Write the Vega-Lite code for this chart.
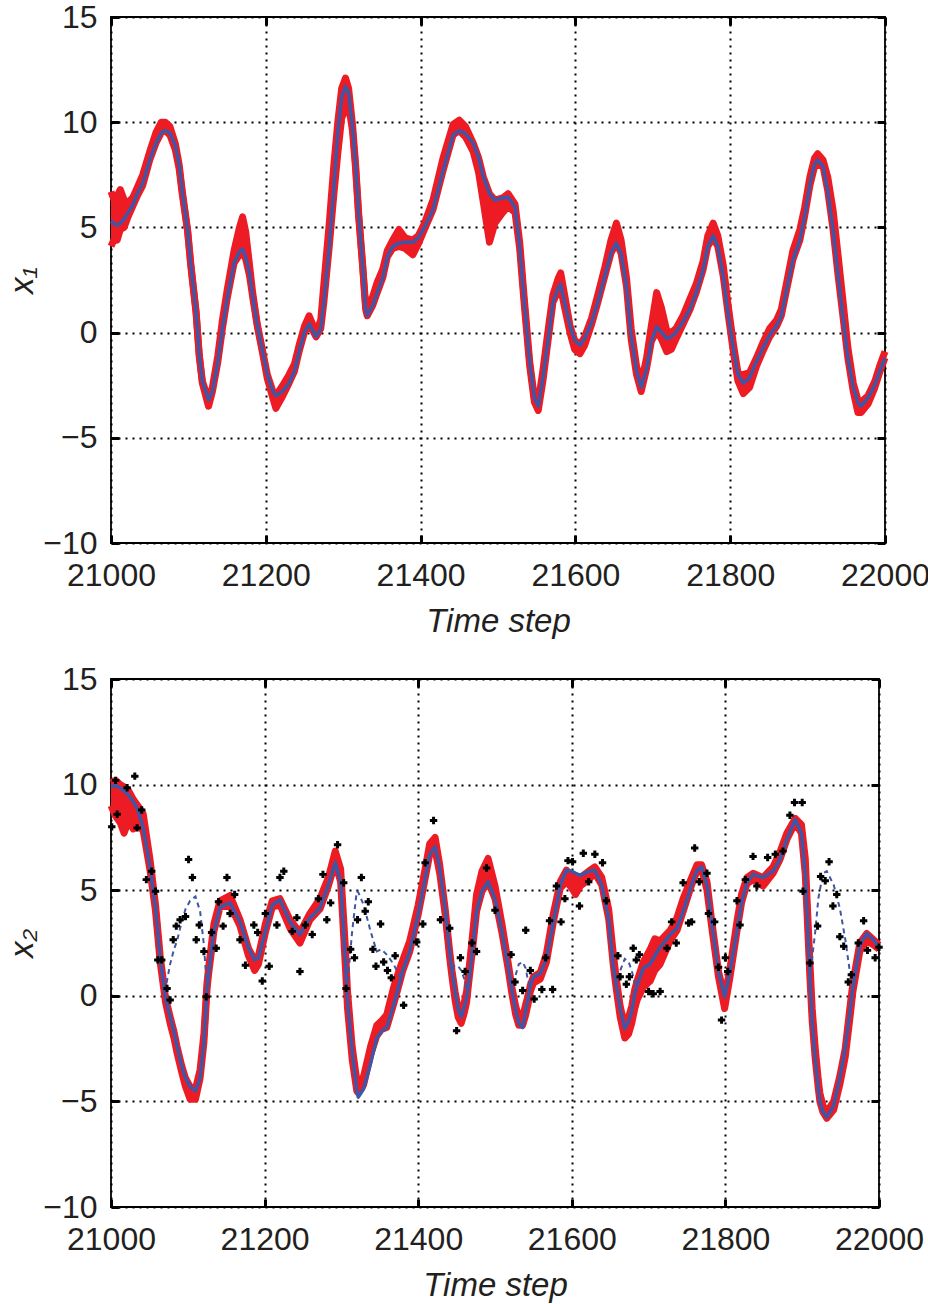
{
"$schema": "https://vega.github.io/schema/vega-lite/v6.json",
"autosize": {"type": "pad"},
"padding": {"left": 5, "top": 0, "right": 0, "bottom": 0},
"background": "white",
"config": {
  "view": {"stroke": "#000000", "strokeWidth": 1.8},
  "concat": {"spacing": 23},
  "axis": {"labelFont": "Liberation Sans", "labelFontSize": 32, "labelColor": "#231f20", "titleFont": "Liberation Sans", "titleFontSize": 33, "titleFontWeight": "normal", "titleColor": "#231f20", "domain": false, "gridColor": "#000000", "gridDash": [2, 5], "gridWidth": 2, "gridOpacity": 1, "tickColor": "#000000", "tickWidth": 3, "tickSize": -8, "labelFlush": false, "labelOverlap": false}
},
"datasets": {
"top": [
{"t":21000,"x":5.3,"lo":4.1,"hi":6.7},{"t":21005,"x":5.15,"lo":4.5,"hi":6.2},{"t":21008,"x":5.1,"lo":4.4,"hi":6.5},{"t":21012,"x":5.2,"lo":4.9,"hi":6.8},{"t":21017,"x":5.4,"lo":5.0,"hi":6.3},{"t":21022,"x":5.7,"lo":5.5,"hi":6.2},{"t":21028,"x":6.05,"lo":6.0,"hi":6.4},{"t":21034,"x":6.6,"lo":6.5,"hi":6.9},{"t":21041,"x":7.1,"lo":7.0,"hi":7.5},{"t":21050,"x":8.2,"lo":8.2,"hi":8.6},{"t":21058,"x":9.0,"lo":9.0,"hi":9.5},{"t":21065,"x":9.5,"lo":9.5,"hi":10.0},{"t":21070,"x":9.6,"lo":9.6,"hi":10.0},{"t":21076,"x":9.5,"lo":9.4,"hi":9.8},{"t":21083,"x":8.9,"lo":8.7,"hi":9.0},{"t":21088,"x":8.0,"lo":7.8,"hi":8.0},{"t":21092,"x":6.75,"lo":6.6,"hi":6.75},{"t":21099,"x":4.87,"lo":4.8,"hi":4.87},{"t":21103,"x":3.3,"lo":3.2,"hi":3.3},{"t":21110,"x":0.97,"lo":0.9,"hi":0.97},{"t":21114,"x":-1.06,"lo":-1.1,"hi":-1.06},{"t":21118,"x":-2.3,"lo":-2.4,"hi":-2.3},{"t":21126,"x":-3.2,"lo":-3.5,"hi":-3.2},{"t":21131,"x":-2.8,"lo":-2.8,"hi":-2.6},{"t":21138,"x":-1.4,"lo":-1.4,"hi":-1.1},{"t":21144,"x":0.2,"lo":0.2,"hi":0.6},{"t":21150,"x":1.6,"lo":1.6,"hi":2.0},{"t":21159,"x":3.3,"lo":3.3,"hi":3.9},{"t":21166,"x":3.86,"lo":3.7,"hi":5.0},{"t":21170,"x":3.97,"lo":3.8,"hi":5.5},{"t":21174,"x":3.6,"lo":3.5,"hi":4.8},{"t":21179,"x":2.8,"lo":2.7,"hi":3.2},{"t":21183,"x":1.75,"lo":1.7,"hi":1.9},{"t":21189,"x":0.34,"lo":0.3,"hi":0.4},{"t":21196,"x":-0.9,"lo":-1.0,"hi":-0.9},{"t":21202,"x":-2.0,"lo":-2.2,"hi":-2.0},{"t":21209,"x":-2.78,"lo":-3.1,"hi":-2.78},{"t":21213,"x":-3.0,"lo":-3.6,"hi":-3.0},{"t":21222,"x":-2.78,"lo":-3.0,"hi":-2.5},{"t":21230,"x":-2.4,"lo":-2.4,"hi":-2.0},{"t":21237,"x":-1.84,"lo":-1.84,"hi":-1.5},{"t":21243,"x":-0.9,"lo":-0.9,"hi":-0.6},{"t":21250,"x":0.03,"lo":0.03,"hi":0.3},{"t":21256,"x":0.42,"lo":0.42,"hi":0.8},{"t":21265,"x":-0.2,"lo":-0.2,"hi":0.0},{"t":21271,"x":0.19,"lo":0.19,"hi":0.6},{"t":21275,"x":1.44,"lo":1.44,"hi":2.3},{"t":21282,"x":4.1,"lo":4.1,"hi":5.2},{"t":21288,"x":6.9,"lo":6.6,"hi":8.0},{"t":21293,"x":9.5,"lo":8.5,"hi":10.0},{"t":21298,"x":11.2,"lo":10.2,"hi":11.6},{"t":21303,"x":11.7,"lo":10.6,"hi":12.1},{"t":21307,"x":11.4,"lo":10.8,"hi":11.6},{"t":21312,"x":9.8,"lo":9.6,"hi":9.9},{"t":21316,"x":8.0,"lo":7.8,"hi":8.0},{"t":21320,"x":5.65,"lo":5.5,"hi":5.65},{"t":21325,"x":3.3,"lo":3.2,"hi":3.3},{"t":21329,"x":1.1,"lo":1.1,"hi":1.3},{"t":21331,"x":0.8,"lo":0.8,"hi":1.2},{"t":21338,"x":1.28,"lo":1.28,"hi":1.7},{"t":21344,"x":1.9,"lo":1.9,"hi":2.4},{"t":21351,"x":2.6,"lo":2.6,"hi":3.0},{"t":21357,"x":3.6,"lo":3.6,"hi":3.9},{"t":21364,"x":4.1,"lo":4.0,"hi":4.4},{"t":21372,"x":4.25,"lo":4.1,"hi":4.9},{"t":21380,"x":4.3,"lo":4.0,"hi":4.5},{"t":21390,"x":4.3,"lo":3.7,"hi":4.4},{"t":21397,"x":4.5,"lo":4.2,"hi":4.6},{"t":21405,"x":5.0,"lo":4.9,"hi":5.2},{"t":21416,"x":5.85,"lo":5.85,"hi":6.3},{"t":21429,"x":7.7,"lo":7.7,"hi":8.3},{"t":21442,"x":9.4,"lo":9.4,"hi":9.9},{"t":21450,"x":9.6,"lo":9.6,"hi":10.1},{"t":21458,"x":9.45,"lo":9.3,"hi":9.8},{"t":21468,"x":9.0,"lo":8.6,"hi":9.0},{"t":21475,"x":8.3,"lo":7.6,"hi":8.3},{"t":21481,"x":7.4,"lo":6.2,"hi":7.4},{"t":21489,"x":6.6,"lo":4.3,"hi":6.6},{"t":21496,"x":6.3,"lo":5.2,"hi":6.3},{"t":21506,"x":6.4,"lo":5.7,"hi":6.4},{"t":21513,"x":6.44,"lo":6.0,"hi":6.6},{"t":21522,"x":5.97,"lo":5.7,"hi":6.1},{"t":21528,"x":4.1,"lo":4.0,"hi":4.3},{"t":21534,"x":1.44,"lo":1.3,"hi":1.6},{"t":21541,"x":-1.4,"lo":-1.6,"hi":-1.4},{"t":21547,"x":-3.1,"lo":-3.3,"hi":-3.1},{"t":21552,"x":-3.5,"lo":-3.7,"hi":-3.3},{"t":21558,"x":-2.15,"lo":-2.3,"hi":-1.8},{"t":21565,"x":-0.28,"lo":-0.28,"hi":0.2},{"t":21571,"x":1.44,"lo":1.44,"hi":1.8},{"t":21578,"x":2.14,"lo":2.0,"hi":2.6},{"t":21581,"x":2.3,"lo":2.1,"hi":2.84},{"t":21586,"x":1.44,"lo":1.2,"hi":1.8},{"t":21593,"x":0.34,"lo":0.0,"hi":0.34},{"t":21599,"x":-0.36,"lo":-0.8,"hi":-0.36},{"t":21606,"x":-0.6,"lo":-1.0,"hi":-0.6},{"t":21612,"x":-0.28,"lo":-0.6,"hi":-0.2},{"t":21621,"x":0.5,"lo":0.4,"hi":0.7},{"t":21629,"x":1.44,"lo":1.44,"hi":1.8},{"t":21638,"x":2.69,"lo":2.69,"hi":3.1},{"t":21646,"x":3.78,"lo":3.78,"hi":4.4},{"t":21653,"x":4.25,"lo":4.25,"hi":5.2},{"t":21659,"x":3.78,"lo":3.78,"hi":4.4},{"t":21666,"x":2.2,"lo":2.2,"hi":2.6},{"t":21672,"x":-0.12,"lo":-0.3,"hi":0.2},{"t":21679,"x":-1.84,"lo":-2.0,"hi":-1.6},{"t":21685,"x":-2.6,"lo":-2.8,"hi":-2.4},{"t":21692,"x":-1.7,"lo":-1.7,"hi":-1.2},{"t":21698,"x":-0.44,"lo":-0.44,"hi":0.3},{"t":21705,"x":0.27,"lo":0.1,"hi":1.9},{"t":21711,"x":0.03,"lo":-0.3,"hi":1.2},{"t":21718,"x":-0.28,"lo":-0.9,"hi":0.1},{"t":21724,"x":-0.2,"lo":-0.8,"hi":0.0},{"t":21730,"x":0.03,"lo":-0.3,"hi":0.2},{"t":21739,"x":0.5,"lo":0.4,"hi":0.8},{"t":21748,"x":1.13,"lo":1.1,"hi":1.6},{"t":21756,"x":1.9,"lo":1.9,"hi":2.3},{"t":21765,"x":3.0,"lo":3.0,"hi":3.4},{"t":21771,"x":4.1,"lo":4.1,"hi":4.6},{"t":21778,"x":4.6,"lo":4.5,"hi":5.2},{"t":21784,"x":4.1,"lo":4.1,"hi":4.6},{"t":21791,"x":2.69,"lo":2.69,"hi":3.2},{"t":21797,"x":0.97,"lo":0.97,"hi":1.4},{"t":21804,"x":-0.75,"lo":-0.9,"hi":-0.5},{"t":21810,"x":-2.0,"lo":-2.3,"hi":-1.9},{"t":21817,"x":-2.4,"lo":-2.9,"hi":-2.0},{"t":21825,"x":-2.15,"lo":-2.6,"hi":-1.9},{"t":21834,"x":-1.37,"lo":-1.6,"hi":-1.2},{"t":21842,"x":-0.75,"lo":-0.9,"hi":-0.5},{"t":21851,"x":-0.12,"lo":-0.2,"hi":0.2},{"t":21860,"x":0.34,"lo":0.3,"hi":0.6},{"t":21866,"x":0.8,"lo":0.8,"hi":1.1},{"t":21873,"x":2.06,"lo":2.06,"hi":2.4},{"t":21881,"x":3.47,"lo":3.47,"hi":3.9},{"t":21890,"x":4.4,"lo":4.4,"hi":4.9},{"t":21896,"x":5.5,"lo":5.5,"hi":5.9},{"t":21903,"x":7.06,"lo":7.0,"hi":7.4},{"t":21909,"x":8.0,"lo":7.9,"hi":8.3},{"t":21913,"x":8.2,"lo":8.0,"hi":8.5},{"t":21920,"x":7.9,"lo":7.9,"hi":8.2},{"t":21926,"x":6.75,"lo":6.75,"hi":7.4},{"t":21933,"x":4.87,"lo":4.87,"hi":5.8},{"t":21939,"x":2.84,"lo":2.84,"hi":3.8},{"t":21946,"x":0.66,"lo":0.66,"hi":1.4},{"t":21952,"x":-1.2,"lo":-1.2,"hi":-0.7},{"t":21959,"x":-2.6,"lo":-2.8,"hi":-2.4},{"t":21965,"x":-3.33,"lo":-3.8,"hi":-3.2},{"t":21969,"x":-3.5,"lo":-3.8,"hi":-3.3},{"t":21978,"x":-3.1,"lo":-3.4,"hi":-3.0},{"t":21987,"x":-2.47,"lo":-2.6,"hi":-2.3},{"t":21993,"x":-1.84,"lo":-1.9,"hi":-1.6},{"t":22000,"x":-1.2,"lo":-1.2,"hi":-0.9}
],
"bot": [
{"t":21000,"x":9.9,"lo":9.0,"hi":10.1,"d":9.9},{"t":21006,"x":9.95,"lo":8.5,"hi":10.2,"d":9.95},{"t":21012,"x":9.85,"lo":8.2,"hi":10.0,"d":9.85},{"t":21017,"x":9.7,"lo":7.7,"hi":9.9,"d":9.7},{"t":21023,"x":9.5,"lo":8.3,"hi":9.7,"d":9.5},{"t":21029,"x":9.2,"lo":7.9,"hi":9.3,"d":9.2},{"t":21035,"x":8.8,"lo":8.1,"hi":9.0,"d":8.8},{"t":21042,"x":7.95,"lo":7.8,"hi":8.6,"d":7.95},{"t":21051,"x":6.05,"lo":5.9,"hi":6.4,"d":6.05},{"t":21058,"x":4.15,"lo":4.0,"hi":4.3,"d":4.15},{"t":21064,"x":1.8,"lo":1.6,"hi":1.9,"d":1.8},{"t":21071,"x":-0.1,"lo":-0.3,"hi":-0.1,"d":0.35},{"t":21077,"x":-1.0,"lo":-1.3,"hi":-1.0,"d":1.5},{"t":21082,"x":-1.7,"lo":-2.0,"hi":-1.7,"d":2.2},{"t":21086,"x":-2.4,"lo":-2.7,"hi":-2.4,"d":2.6},{"t":21092,"x":-3.3,"lo":-3.6,"hi":-3.3,"d":3.5},{"t":21097,"x":-3.9,"lo":-4.3,"hi":-3.9,"d":4.1},{"t":21103,"x":-4.3,"lo":-4.9,"hi":-4.3,"d":4.5},{"t":21110,"x":-4.5,"lo":-4.9,"hi":-4.4,"d":4.7},{"t":21116,"x":-3.9,"lo":-3.9,"hi":-3.5,"d":4.0},{"t":21121,"x":-2.2,"lo":-2.2,"hi":-1.8,"d":2.4},{"t":21125,"x":0.3,"lo":0.3,"hi":0.6,"d":0.3},{"t":21127,"x":1.0,"lo":1.0,"hi":1.3,"d":1.0},{"t":21134,"x":3.05,"lo":3.05,"hi":3.4,"d":3.05},{"t":21142,"x":4.2,"lo":4.2,"hi":4.5,"d":4.2},{"t":21155,"x":4.4,"lo":4.3,"hi":4.75,"d":4.4},{"t":21168,"x":3.5,"lo":3.3,"hi":3.6,"d":3.5},{"t":21179,"x":2.25,"lo":1.9,"hi":2.25,"d":2.25},{"t":21187,"x":1.7,"lo":1.2,"hi":1.7,"d":1.7},{"t":21192,"x":1.8,"lo":1.5,"hi":1.9,"d":1.8},{"t":21201,"x":3.05,"lo":3.0,"hi":3.4,"d":3.05},{"t":21210,"x":4.3,"lo":4.2,"hi":4.5,"d":4.3},{"t":21220,"x":4.55,"lo":4.3,"hi":4.6,"d":4.55},{"t":21233,"x":3.5,"lo":3.2,"hi":3.6,"d":3.5},{"t":21246,"x":2.9,"lo":2.5,"hi":3.0,"d":2.9},{"t":21259,"x":3.7,"lo":3.6,"hi":3.9,"d":3.7},{"t":21272,"x":4.15,"lo":4.1,"hi":4.6,"d":4.15},{"t":21283,"x":5.25,"lo":5.2,"hi":5.6,"d":5.25},{"t":21292,"x":6.3,"lo":6.3,"hi":6.85,"d":6.3},{"t":21299,"x":5.4,"lo":5.4,"hi":6.0,"d":5.4},{"t":21305,"x":1.8,"lo":1.5,"hi":2.4,"d":1.8},{"t":21308,"x":-0.3,"lo":-0.6,"hi":0.2,"d":0.6},{"t":21314,"x":-2.6,"lo":-3.0,"hi":-2.4,"d":3.05},{"t":21320,"x":-4.5,"lo":-4.5,"hi":-4.0,"d":4.95},{"t":21322,"x":-4.8,"lo":-4.6,"hi":-4.2,"d":4.9},{"t":21329,"x":-4.4,"lo":-4.2,"hi":-3.8,"d":4.3},{"t":21338,"x":-3.2,"lo":-2.8,"hi":-2.4,"d":3.05},{"t":21346,"x":-2.0,"lo":-1.9,"hi":-1.4,"d":2.1},{"t":21352,"x":-1.7,"lo":-1.6,"hi":-1.2,"d":2.2},{"t":21359,"x":-1.5,"lo":-1.5,"hi":-0.9,"d":1.95},{"t":21368,"x":-0.45,"lo":-0.4,"hi":0.4,"d":1.5},{"t":21376,"x":0.65,"lo":0.65,"hi":1.3,"d":0.9},{"t":21380,"x":1.2,"lo":1.2,"hi":1.7,"d":1.2},{"t":21389,"x":2.1,"lo":2.1,"hi":2.6,"d":2.1},{"t":21400,"x":3.85,"lo":3.85,"hi":4.3,"d":3.85},{"t":21409,"x":5.55,"lo":5.55,"hi":6.0,"d":5.55},{"t":21415,"x":6.7,"lo":6.7,"hi":7.2,"d":6.7},{"t":21422,"x":7.05,"lo":6.9,"hi":7.5,"d":7.05},{"t":21428,"x":6.05,"lo":5.8,"hi":6.2,"d":6.05},{"t":21435,"x":4.15,"lo":3.9,"hi":4.15,"d":4.15},{"t":21441,"x":2.1,"lo":1.8,"hi":2.1,"d":2.1},{"t":21444,"x":1.2,"lo":0.9,"hi":1.2,"d":1.3},{"t":21448,"x":0.2,"lo":-0.2,"hi":0.2,"d":1.45},{"t":21452,"x":-0.6,"lo":-1.0,"hi":-0.6,"d":1.4},{"t":21456,"x":-1.0,"lo":-1.3,"hi":-0.8,"d":1.2},{"t":21460,"x":-0.5,"lo":-0.8,"hi":-0.3,"d":0.8},{"t":21463,"x":-0.1,"lo":-0.3,"hi":0.2,"d":0.3},{"t":21466,"x":0.7,"lo":0.7,"hi":1.2,"d":0.7},{"t":21470,"x":1.95,"lo":1.95,"hi":2.6,"d":1.95},{"t":21476,"x":4.0,"lo":4.0,"hi":4.8,"d":4.0},{"t":21483,"x":4.95,"lo":4.95,"hi":5.9,"d":4.95},{"t":21491,"x":5.4,"lo":5.4,"hi":6.5,"d":5.4},{"t":21500,"x":4.6,"lo":4.6,"hi":5.2,"d":4.6},{"t":21509,"x":3.05,"lo":3.0,"hi":3.4,"d":3.05},{"t":21517,"x":1.45,"lo":1.3,"hi":1.6,"d":1.45},{"t":21522,"x":0.3,"lo":0.1,"hi":0.4,"d":0.3},{"t":21527,"x":-0.7,"lo":-0.9,"hi":-0.5,"d":1.0},{"t":21531,"x":-1.3,"lo":-1.4,"hi":-1.0,"d":1.5},{"t":21536,"x":-1.5,"lo":-1.4,"hi":-1.0,"d":1.6},{"t":21540,"x":-0.7,"lo":-0.9,"hi":-0.4,"d":1.3},{"t":21543,"x":-0.15,"lo":-0.4,"hi":0.0,"d":0.7},{"t":21546,"x":0.5,"lo":0.2,"hi":0.5,"d":0.5},{"t":21550,"x":0.9,"lo":0.6,"hi":0.9,"d":0.9},{"t":21559,"x":1.05,"lo":0.8,"hi":1.1,"d":1.05},{"t":21567,"x":1.75,"lo":1.6,"hi":2.0,"d":1.75},{"t":21576,"x":3.5,"lo":3.5,"hi":3.9,"d":3.5},{"t":21585,"x":5.25,"lo":5.1,"hi":5.4,"d":5.25},{"t":21593,"x":5.95,"lo":5.4,"hi":5.95,"d":5.95},{"t":21600,"x":5.9,"lo":5.1,"hi":5.7,"d":5.9},{"t":21605,"x":5.8,"lo":4.8,"hi":5.5,"d":5.8},{"t":21611,"x":5.7,"lo":5.2,"hi":5.6,"d":5.7},{"t":21622,"x":5.9,"lo":5.5,"hi":5.9,"d":5.9},{"t":21630,"x":5.95,"lo":5.8,"hi":6.1,"d":5.95},{"t":21639,"x":5.25,"lo":5.25,"hi":5.6,"d":5.25},{"t":21648,"x":3.65,"lo":3.65,"hi":4.1,"d":3.65},{"t":21654,"x":1.45,"lo":1.45,"hi":2.0,"d":1.45},{"t":21658,"x":0.5,"lo":0.3,"hi":0.8,"d":0.6},{"t":21663,"x":-0.6,"lo":-1.0,"hi":-0.5,"d":1.2},{"t":21669,"x":-1.55,"lo":-2.0,"hi":-1.4,"d":1.75},{"t":21674,"x":-1.2,"lo":-1.8,"hi":-1.0,"d":1.6},{"t":21678,"x":-0.75,"lo":-1.3,"hi":-0.5,"d":1.2},{"t":21682,"x":0.1,"lo":-0.6,"hi":0.3,"d":0.6},{"t":21685,"x":0.5,"lo":-0.2,"hi":0.7,"d":0.5},{"t":21693,"x":1.3,"lo":0.4,"hi":1.6,"d":1.3},{"t":21702,"x":1.5,"lo":0.7,"hi":2.2,"d":1.5},{"t":21708,"x":1.9,"lo":1.2,"hi":2.7,"d":1.9},{"t":21715,"x":2.3,"lo":1.5,"hi":2.6,"d":2.3},{"t":21728,"x":2.9,"lo":2.6,"hi":3.1,"d":2.9},{"t":21737,"x":3.2,"lo":3.1,"hi":3.7,"d":3.2},{"t":21745,"x":4.0,"lo":4.0,"hi":4.6,"d":4.0},{"t":21756,"x":5.25,"lo":5.25,"hi":5.6,"d":5.25},{"t":21763,"x":5.95,"lo":5.9,"hi":6.2,"d":5.95},{"t":21769,"x":6.1,"lo":6.0,"hi":6.2,"d":6.1},{"t":21776,"x":5.25,"lo":5.0,"hi":5.4,"d":5.25},{"t":21782,"x":3.5,"lo":3.3,"hi":3.6,"d":3.5},{"t":21791,"x":1.15,"lo":0.9,"hi":1.15,"d":1.15},{"t":21799,"x":-0.05,"lo":-0.6,"hi":-0.05,"d":-0.05},{"t":21806,"x":1.15,"lo":0.9,"hi":1.3,"d":1.15},{"t":21815,"x":3.05,"lo":3.05,"hi":3.5,"d":3.05},{"t":21821,"x":4.4,"lo":4.4,"hi":4.8,"d":4.4},{"t":21828,"x":5.35,"lo":5.3,"hi":5.6,"d":5.35},{"t":21836,"x":5.75,"lo":5.5,"hi":5.8,"d":5.75},{"t":21849,"x":5.6,"lo":5.2,"hi":5.6,"d":5.6},{"t":21862,"x":5.9,"lo":5.8,"hi":6.1,"d":5.9},{"t":21871,"x":6.45,"lo":6.45,"hi":6.8,"d":6.45},{"t":21880,"x":7.4,"lo":7.4,"hi":7.7,"d":7.4},{"t":21891,"x":8.35,"lo":8.2,"hi":8.4,"d":8.35},{"t":21899,"x":7.7,"lo":7.7,"hi":8.1,"d":7.7},{"t":21904,"x":5.75,"lo":5.75,"hi":6.5,"d":5.75},{"t":21908,"x":2.55,"lo":2.55,"hi":3.2,"d":2.55},{"t":21910,"x":0.9,"lo":0.9,"hi":1.6,"d":0.9},{"t":21913,"x":-1.2,"lo":-1.2,"hi":-0.6,"d":1.8},{"t":21917,"x":-3.0,"lo":-3.0,"hi":-2.5,"d":3.05},{"t":21921,"x":-4.4,"lo":-4.4,"hi":-4.0,"d":4.6},{"t":21923,"x":-5.0,"lo":-5.0,"hi":-4.6,"d":5.0},{"t":21927,"x":-5.5,"lo":-5.5,"hi":-5.2,"d":5.8},{"t":21932,"x":-5.75,"lo":-5.8,"hi":-5.5,"d":5.9},{"t":21941,"x":-5.2,"lo":-5.4,"hi":-5.0,"d":5.25},{"t":21949,"x":-3.9,"lo":-4.2,"hi":-3.8,"d":4.15},{"t":21956,"x":-2.5,"lo":-2.9,"hi":-2.5,"d":2.7},{"t":21962,"x":-0.8,"lo":-1.1,"hi":-0.6,"d":1.15},{"t":21966,"x":0.4,"lo":0.2,"hi":0.6,"d":0.4},{"t":21975,"x":2.4,"lo":2.1,"hi":2.5,"d":2.4},{"t":21984,"x":2.95,"lo":2.6,"hi":2.95,"d":2.95},{"t":21993,"x":2.65,"lo":2.4,"hi":2.65,"d":2.65},{"t":22000,"x":2.25,"lo":2.2,"hi":2.4,"d":2.25}
],
"obs": [
{"t":21001,"v":8.0},{"t":21006,"v":10.2},{"t":21008,"v":8.6},{"t":21021,"v":9.85},{"t":21031,"v":10.4},{"t":21034,"v":7.95},{"t":21040,"v":8.8},{"t":21046,"v":5.5},{"t":21053,"v":5.9},{"t":21058,"v":4.95},{"t":21061,"v":1.7},{"t":21066,"v":1.7},{"t":21073,"v":0.35},{"t":21077,"v":-0.2},{"t":21081,"v":2.65},{"t":21085,"v":3.3},{"t":21090,"v":3.6},{"t":21097,"v":3.75},{"t":21101,"v":6.45},{"t":21106,"v":5.6},{"t":21111,"v":2.65},{"t":21115,"v":3.35},{"t":21121,"v":2.1},{"t":21124,"v":-0.05},{"t":21131,"v":3.0},{"t":21137,"v":2.25},{"t":21140,"v":4.45},{"t":21146,"v":3.3},{"t":21151,"v":5.6},{"t":21155,"v":3.9},{"t":21161,"v":4.8},{"t":21168,"v":2.65},{"t":21175,"v":1.45},{"t":21186,"v":3.35},{"t":21191,"v":3.0},{"t":21197,"v":0.7},{"t":21201,"v":3.9},{"t":21206,"v":1.4},{"t":21216,"v":3.35},{"t":21220,"v":5.6},{"t":21225,"v":5.9},{"t":21236,"v":3.05},{"t":21242,"v":3.7},{"t":21246,"v":1.15},{"t":21253,"v":3.35},{"t":21262,"v":2.9},{"t":21270,"v":4.6},{"t":21276,"v":5.75},{"t":21281,"v":3.6},{"t":21286,"v":4.4},{"t":21295,"v":7.15},{"t":21303,"v":5.35},{"t":21306,"v":0.35},{"t":21312,"v":2.2},{"t":21317,"v":1.8},{"t":21321,"v":3.6},{"t":21326,"v":5.6},{"t":21331,"v":4.0},{"t":21335,"v":4.45},{"t":21341,"v":2.2},{"t":21345,"v":1.4},{"t":21351,"v":3.4},{"t":21355,"v":1.6},{"t":21360,"v":1.2},{"t":21365,"v":0.85},{"t":21370,"v":1.9},
{"t":21381,"v":-0.45},{"t":21398,"v":2.55},{"t":21406,"v":3.4},{"t":21409,"v":6.3},{"t":21420,"v":8.3},{"t":21429,"v":3.6},{"t":21441,"v":3.2},{"t":21450,"v":-1.65},{"t":21455,"v":1.8},{"t":21461,"v":1.15},{"t":21470,"v":2.5},{"t":21476,"v":2.1},{"t":21489,"v":6.05},{"t":21500,"v":4.05},{"t":21521,"v":1.95},{"t":21526,"v":0.65},{"t":21536,"v":0.25},{"t":21540,"v":3.1},{"t":21546,"v":1.2},{"t":21551,"v":-0.15},{"t":21561,"v":0.3},{"t":21566,"v":1.8},{"t":21571,"v":3.55},{"t":21575,"v":0.3},{"t":21580,"v":5.2},{"t":21586,"v":3.5},{"t":21591,"v":4.6},{"t":21595,"v":6.4},{"t":21601,"v":6.35},{"t":21610,"v":4.25},{"t":21615,"v":6.75},{"t":21622,"v":5.4},{"t":21630,"v":6.7},{"t":21640,"v":6.3},{"t":21645,"v":4.5},{"t":21660,"v":1.9},{"t":21663,"v":0.9},{"t":21671,"v":0.55},{"t":21675,"v":0.9},{"t":21680,"v":2.25},{"t":21684,"v":1.7},{"t":21688,"v":1.95},{"t":21700,"v":0.2},{"t":21706,"v":0.1},
{"t":21715,"v":0.2},{"t":21724,"v":2.25},{"t":21730,"v":3.5},{"t":21736,"v":2.5},{"t":21745,"v":5.35},{"t":21752,"v":3.45},{"t":21756,"v":3.5},{"t":21760,"v":7.0},{"t":21766,"v":5.4},{"t":21776,"v":5.8},{"t":21778,"v":3.9},{"t":21786,"v":3.5},{"t":21791,"v":1.35},{"t":21795,"v":-1.15},{"t":21800,"v":1.8},{"t":21803,"v":1.15},{"t":21815,"v":4.5},{"t":21819,"v":3.35},{"t":21826,"v":5.5},{"t":21836,"v":6.6},{"t":21841,"v":5.2},{"t":21855,"v":6.55},{"t":21865,"v":6.7},{"t":21875,"v":6.85},{"t":21884,"v":8.55},{"t":21890,"v":9.15},{"t":21900,"v":9.15},{"t":21901,"v":4.95},{"t":21910,"v":1.55},{"t":21920,"v":3.3},{"t":21924,"v":5.65},{"t":21930,"v":5.45},{"t":21935,"v":6.35},{"t":21940,"v":4.25},{"t":21945,"v":4.8},{"t":21949,"v":2.8},{"t":21954,"v":2.35},{"t":21960,"v":0.65},{"t":21964,"v":1.0},{"t":21973,"v":2.5},{"t":21980,"v":3.55},{"t":21985,"v":2.15},{"t":21995,"v":1.8},{"t":22000,"v":2.3}
]
},
"vconcat": [
{
  "width": 774, "height": 526,
  "data": {"name": "top"},
  "resolve": {"axis": {"x": "independent", "y": "independent"}},
  "layer": [
    {"mark": {"type": "area", "color": "#ED1C24", "opacity": 1},
     "encoding": {
       "x": {"field": "t", "type": "quantitative", "scale": {"domain": [21000, 22000], "nice": false}, "axis": {"title": "Time step", "titleFontStyle": "italic", "values": [21000, 21200, 21400, 21600, 21800, 22000], "format": "d", "grid": true, "labelPadding": 25, "titlePadding": 14}},
       "y": {"field": "lo", "type": "quantitative", "scale": {"domain": [-10, 15], "nice": false}, "axis": {"title": "x₁", "titleFontStyle": "italic", "values": [-10, -5, 0, 5, 10, 15], "format": "d", "grid": true, "labelPadding": 22, "titlePadding": 3}},
       "y2": {"field": "hi"}}},
    {"mark": {"type": "line", "color": "#ED1C24", "strokeWidth": 7, "strokeJoin": "round"},
     "encoding": {"x": {"field": "t", "type": "quantitative", "axis": null}, "y": {"field": "lo", "type": "quantitative", "axis": null}}},
    {"mark": {"type": "line", "color": "#ED1C24", "strokeWidth": 7, "strokeJoin": "round"},
     "encoding": {"x": {"field": "t", "type": "quantitative", "axis": null}, "y": {"field": "hi", "type": "quantitative", "axis": null}}},
    {"mark": {"type": "line", "color": "#3F56A6", "strokeWidth": 3.5, "strokeJoin": "round"},
     "encoding": {
       "x": {"field": "t", "type": "quantitative", "axis": {"orient": "top", "labels": false, "title": null, "grid": false, "values": [21000, 21200, 21400, 21600, 21800, 22000]}},
       "y": {"field": "x", "type": "quantitative", "axis": {"orient": "right", "labels": false, "title": null, "grid": false, "values": [-10, -5, 0, 5, 10, 15]}}}}
  ]
},
{
  "width": 768, "height": 528,
  "resolve": {"axis": {"x": "independent", "y": "independent"}},
  "layer": [
    {"data": {"name": "bot"}, "mark": {"type": "area", "color": "#ED1C24", "opacity": 1},
     "encoding": {
       "x": {"field": "t", "type": "quantitative", "scale": {"domain": [21000, 22000], "nice": false}, "axis": {"title": "Time step", "titleFontStyle": "italic", "values": [21000, 21200, 21400, 21600, 21800, 22000], "format": "d", "grid": true, "labelPadding": 25, "titlePadding": 14}},
       "y": {"field": "lo", "type": "quantitative", "scale": {"domain": [-10, 15], "nice": false}, "axis": {"title": "x₂", "titleFontStyle": "italic", "values": [-10, -5, 0, 5, 10, 15], "format": "d", "grid": true, "labelPadding": 22, "titlePadding": 3}},
       "y2": {"field": "hi"}}},
    {"data": {"name": "bot"}, "mark": {"type": "line", "color": "#ED1C24", "strokeWidth": 7, "strokeJoin": "round"},
     "encoding": {"x": {"field": "t", "type": "quantitative", "axis": null}, "y": {"field": "lo", "type": "quantitative", "axis": null}}},
    {"data": {"name": "bot"}, "mark": {"type": "line", "color": "#ED1C24", "strokeWidth": 7, "strokeJoin": "round"},
     "encoding": {"x": {"field": "t", "type": "quantitative", "axis": null}, "y": {"field": "hi", "type": "quantitative", "axis": null}}},
    {"data": {"name": "bot"}, "mark": {"type": "line", "color": "#3F56A6", "strokeWidth": 2, "strokeDash": [5, 4]},
     "encoding": {"x": {"field": "t", "type": "quantitative", "axis": null}, "y": {"field": "d", "type": "quantitative", "axis": null}}},
    {"data": {"name": "bot"}, "mark": {"type": "line", "color": "#3F56A6", "strokeWidth": 3.5, "strokeJoin": "round"},
     "encoding": {
       "x": {"field": "t", "type": "quantitative", "axis": {"orient": "top", "labels": false, "title": null, "grid": false, "values": [21000, 21200, 21400, 21600, 21800, 22000]}},
       "y": {"field": "x", "type": "quantitative", "axis": {"orient": "right", "labels": false, "title": null, "grid": false, "values": [-10, -5, 0, 5, 10, 15]}}}},
    {"data": {"name": "obs"}, "mark": {"type": "point", "shape": "cross", "filled": true, "color": "#000000", "size": 55, "opacity": 1},
     "encoding": {"x": {"field": "t", "type": "quantitative", "axis": null}, "y": {"field": "v", "type": "quantitative", "axis": null}}}
  ]
}
]
}
